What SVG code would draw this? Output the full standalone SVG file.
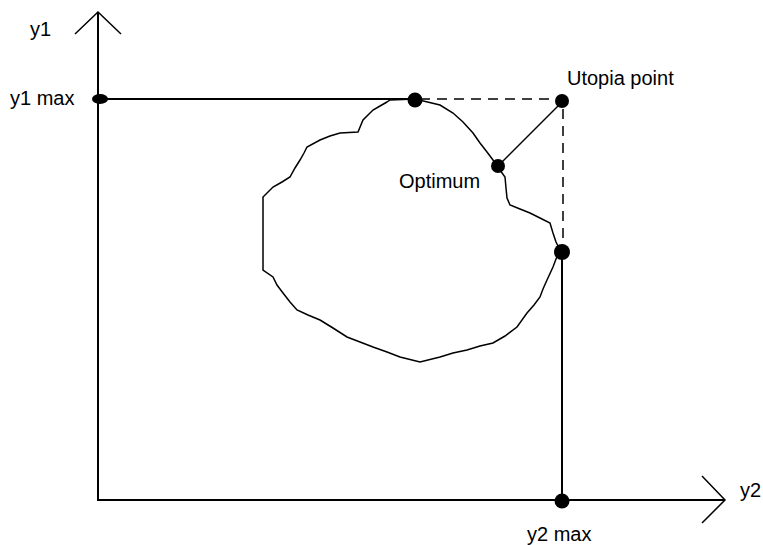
<svg xmlns="http://www.w3.org/2000/svg" width="763" height="545" viewBox="0 0 763 545">
<style>
.ax{stroke:#000;stroke-width:2;fill:none}
.ln{stroke:#000;stroke-width:1.5;fill:none}
.ds{stroke:#000;stroke-width:1.5;fill:none;stroke-dasharray:10 7}
.dot{fill:#000}
text{font-family:"Liberation Sans",Arial,sans-serif;font-size:20px;fill:#000}
</style>
<rect width="763" height="545" fill="#fff"/>
<g id="connectors">
<path class="ax" d="M98,13 V500 H725"/>
<path class="ln" d="M75,34 L98,12 L121,34"/>
<path class="ln" d="M702,476 L725,500 L702,523"/>
<path class="ax" d="M98,99 H415"/>
<path class="ds" d="M420,99 H563 V250"/>
<path class="ax" d="M562,252 V500"/>
<path class="ln" d="M498,166 L563,101"/>
</g>
<g id="region">
<path class="ln" d="M387,102 L390,100 L415,99 L440,105 L453,113 L463,122 L473,133 L480,143 L487,152 L493,160 L497,166 L505,177 L506,188 L507,198 L510,205 L520,209 L530,213 L540,218 L550,223 L553,233 L556,242 L560,250 L556,259 L553,267 L547,280 L543,289 L540,297 L534,305 L527,313 L517,327 L505,336 L493,343 L480,346 L467,350 L453,353 L440,357 L420,362 L400,357 L387,352 L373,347 L360,342 L347,337 L333,328 L320,320 L308,315 L297,310 L290,302 L283,293 L277,285 L273,277 L263,270 L263,230 L263,197 L273,187 L282,182 L290,177 L295,168 L300,160 L304,153 L307,147 L320,140 L330,136 L340,133 L358,132 L363,120 L368,115 L373,110 L380,106 Z"/>
</g>
<g id="y1max"><ellipse class="dot" cx="100" cy="99" rx="8" ry="5"/><text x="10" y="105">y1 max</text></g>
<g id="top"><circle class="dot" cx="415" cy="100" r="7.5"/></g>
<g id="utopia"><circle class="dot" cx="562" cy="101" r="7"/><text x="567" y="85">Utopia point</text></g>
<g id="optimum"><circle class="dot" cx="498" cy="166" r="7"/><text x="399" y="188">Optimum</text></g>
<g id="right"><circle class="dot" cx="562" cy="252" r="8"/></g>
<g id="y2max"><circle class="dot" cx="562" cy="501" r="7.5"/><text x="527" y="541">y2 max</text></g>
<g id="y1label"><text x="30" y="36">y1</text></g>
<g id="y2label"><text x="740" y="497">y2</text></g>
</svg>
